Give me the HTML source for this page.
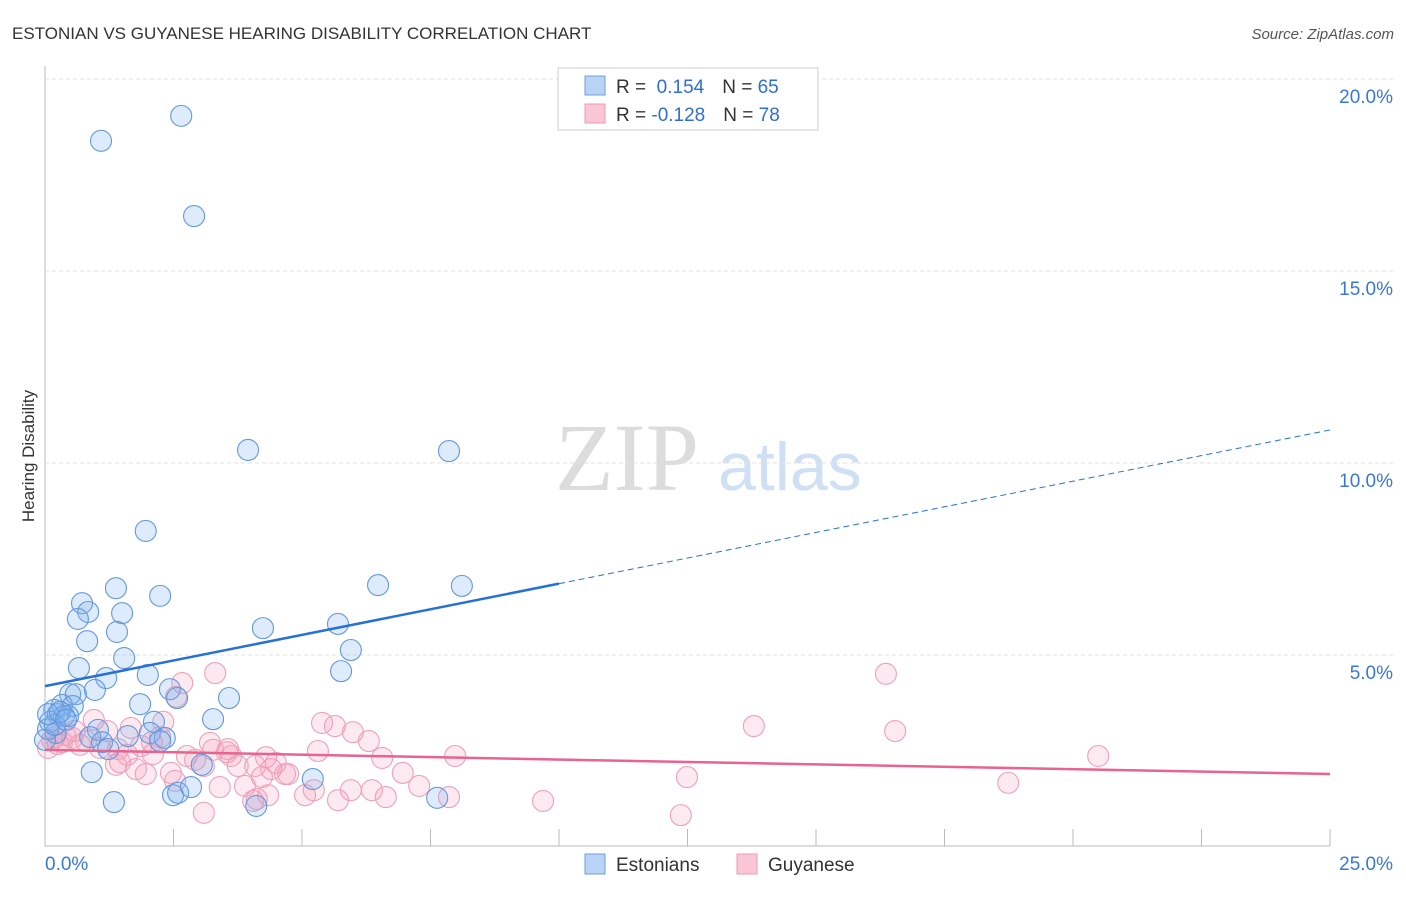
<!DOCTYPE html>
<html><head><meta charset="utf-8"><style>
body{margin:0;background:#fff;font-family:"Liberation Sans",sans-serif;}
svg text{font-family:"Liberation Sans",sans-serif;}
</style></head><body>
<svg id="c" width="1406" height="892" viewBox="0 0 1406 892">
<text x="12" y="39" font-size="17" fill="#333">ESTONIAN VS GUYANESE HEARING DISABILITY CORRELATION CHART</text>
<text x="1394" y="39" font-size="15" fill="#555" font-style="italic" text-anchor="end">Source: ZipAtlas.com</text>
<text x="555" y="490" font-size="96" fill="#dcdcdc" font-family="Liberation Serif" style="font-family:'Liberation Serif',serif">ZIP</text>
<text x="718" y="490" font-size="68" fill="#cfe0f4">atlas</text>
<text transform="translate(34,456) rotate(-90)" font-size="17" fill="#333" text-anchor="middle">Hearing Disability</text>
<g id="grid"></g><g id="pts"></g><g id="lines"></g>
<g>
<rect x="558" y="68" width="260" height="62" fill="#fff" stroke="#ccc"/>
<rect x="585" y="76" width="20" height="19" fill="#b9d3f5" stroke="#6a9fe0"/>
<rect x="585" y="104" width="20" height="19" fill="#f9c6d5" stroke="#ee9ab5"/>
<text x="616" y="93" font-size="19" fill="#333">R = <tspan fill="#2f6fd0">&#160;0.154</tspan><tspan dx="18">N = </tspan><tspan fill="#2f6fd0">65</tspan></text>
<text x="616" y="121" font-size="19" fill="#333">R = <tspan fill="#2f6fd0">-0.128</tspan><tspan dx="18">N = </tspan><tspan fill="#2f6fd0">78</tspan></text>
</g>
<g>
<rect x="585" y="854" width="20" height="20" fill="#b9d3f5" stroke="#6a9fe0"/>
<text x="616" y="871" font-size="19" fill="#333">Estonians</text>
<rect x="737" y="854" width="20" height="20" fill="#f9c6d5" stroke="#ee9ab5"/>
<text x="768" y="871" font-size="19" fill="#333">Guyanese</text>
</g>
</svg>
<script>
const yTicks=[5,10,15,20];
const yTickLabels=["5.0%","10.0%","15.0%","20.0%"];
const xTickLabels=["0.0%","25.0%"];
const estX=[1.09,2.65,2.90,3.95,7.86,1.96,1.38,6.48,8.11,0.72,2.24,0.84,1.50,0.64,1.40,0.82,4.24,5.70,1.54,5.95,0.66,5.76,1.19,2.00,0.97,0.49,0.60,2.43,2.57,3.58,0.33,0.54,0.18,1.85,0.25,0.37,0.10,0.45,3.27,2.12,1.03,2.04,1.61,2.33,0.88,1.11,1.23,0.21,0.06,0.91,1.34,2.49,2.59,2.84,5.21,7.63,4.11,3.05,2.24,0.00,0.19,0.06,0.29,0.41];
const estY=[18.39,19.04,16.43,10.34,10.31,8.23,6.74,6.82,6.80,6.35,6.54,6.12,6.09,5.94,5.60,5.36,5.70,5.81,4.92,5.13,4.66,4.58,4.40,4.48,4.09,3.98,3.98,4.11,3.88,3.88,3.70,3.67,3.57,3.72,3.46,3.41,3.26,3.41,3.33,3.26,3.05,2.97,2.89,2.84,2.86,2.73,2.55,2.97,3.07,1.95,1.17,1.35,1.41,1.56,1.77,1.28,1.07,2.14,2.76,2.79,3.18,3.46,3.52,3.31];
const guyX=[3.31,2.67,2.55,16.36,13.79,16.54,20.49,5.39,5.64,5.99,6.30,6.56,5.31,7.98,0.95,1.21,1.67,2.30,3.21,3.27,3.62,3.54,4.30,4.49,4.73,4.40,4.22,3.75,3.09,2.92,2.76,2.10,1.87,1.42,1.38,1.46,1.77,1.96,2.45,2.53,3.40,3.89,4.12,4.34,5.06,5.23,5.70,5.95,6.36,6.63,6.96,7.86,9.69,12.37,12.49,18.74,3.09,4.05,0.14,0.25,0.39,0.53,0.68,0.80,1.07,0.06,0.19,0.33,0.58,1.60,2.24,2.08,3.56,4.09,4.67,7.28];
const guyY=[4.53,4.27,3.91,4.51,3.15,3.02,2.37,3.23,3.15,2.99,2.76,2.32,2.50,2.37,3.31,3.02,3.10,3.26,2.71,2.53,2.37,2.47,2.34,2.19,1.90,2.03,1.82,2.11,2.11,2.27,2.37,2.42,2.63,2.55,2.14,2.21,2.03,1.90,1.93,1.72,1.56,1.59,1.25,1.35,1.35,1.48,1.22,1.48,1.48,1.30,1.93,1.30,1.20,0.83,1.82,1.67,0.89,1.20,2.79,2.68,2.92,2.84,2.66,2.76,2.58,2.58,2.86,2.73,3.02,2.40,2.86,2.73,2.55,2.11,1.90,1.59];
const estTrend=[4.19,10.86];
const guyTrend=[2.53,1.90];
const NS='http://www.w3.org/2000/svg';
const X0=45,X1=1330,Y0=847,PXY=38.4;
const sx=v=>X0+(X1-X0)*v/25;
const sy=v=>Y0-v*PXY;
function mk(tag,attrs,parent){const e=document.createElementNS(NS,tag);for(const k in attrs)e.setAttribute(k,attrs[k]);parent.appendChild(e);return e;}
const grid=document.getElementById('grid');
mk('line',{x1:45,y1:66,x2:45,y2:846,stroke:'#bbb'},grid);
mk('line',{x1:45,y1:846,x2:1330,y2:846,stroke:'#bbb'},grid);
for(let i=0;i<=10;i++){const x=sx(i*2.5);const t=mk('line',{x1:x,y1:829,x2:x,y2:846,stroke:'#bbb'},grid);

}
yTicks.forEach((v,i)=>{const g=mk('line',{x1:45,y1:sy(v),x2:1395,y2:sy(v),stroke:'#e2e2e2','stroke-dasharray':'4,3'},grid);


const t=mk('text',{x:1393,y:sy(v)+24,'font-size':19,fill:'#3a78d4','text-anchor':'end'},grid);t.textContent=yTickLabels[i];

});
xTickLabels.forEach((l,i)=>{const t=mk('text',{x:i?1393:45,y:870,'font-size':19,fill:'#3a78d4','text-anchor':i?'end':'start'},grid);t.textContent=l;

});
const pts=document.getElementById('pts');
guyX.forEach((x,i)=>{const c=mk('circle',{cx:sx(x),cy:sy(guyY[i]),r:10.5,fill:'rgba(245,160,185,0.22)',stroke:'#eea0b8','stroke-width':1.1},pts);

});
estX.forEach((x,i)=>{const c=mk('circle',{cx:sx(x),cy:sy(estY[i]),r:10.5,fill:'rgba(125,175,235,0.25)',stroke:'#6398de','stroke-width':1.1},pts);

});
const lines=document.getElementById('lines');
const ey=x=>estTrend[0]+(estTrend[1]-estTrend[0])*x/25;
let l=mk('line',{x1:sx(0),y1:sy(ey(0)),x2:sx(10),y2:sy(ey(10)),stroke:'#2571d6','stroke-width':2.5},lines);


l=mk('line',{x1:sx(10),y1:sy(ey(10)),x2:sx(25),y2:sy(ey(25)),stroke:'#2571d6','stroke-width':1,'stroke-dasharray':'6,4'},lines);


l=mk('line',{x1:sx(0),y1:sy(guyTrend[0]),x2:sx(25),y2:sy(guyTrend[1]),stroke:'#e8638f','stroke-width':2.5},lines);


</script>
</body></html>
